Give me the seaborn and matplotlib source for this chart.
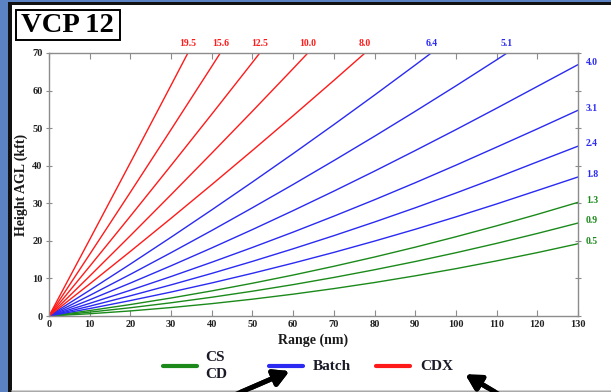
import numpy as np
import pandas as pd
import seaborn as sns
import matplotlib.pyplot as plt
from matplotlib.lines import Line2D
from matplotlib.patches import Rectangle
import matplotlib.transforms as mtransforms

# Range (nm) sample points, shared by all beams
range_nm = [0, 10, 20, 30, 40, 50, 60, 70, 80, 90, 100, 110, 120, 130]

# Elevation angles of VCP 12 (deg) and their scan group
elevations = ['0.5', '0.9', '1.3', '1.8', '2.4', '3.1', '4.0',
              '5.1', '6.4', '8.0', '10.0', '12.5', '15.6', '19.5']
groups = ['CS', 'CS', 'CS', 'Batch', 'Batch', 'Batch', 'Batch',
          'Batch', 'Batch', 'CDX', 'CDX', 'CDX', 'CDX', 'CDX']

# Beam height AGL (kft) at each range point
heights = [
    [0, 0.60, 1.35, 2.25, 3.29, 4.48, 5.81, 7.29, 8.91, 10.69, 12.60, 14.67, 16.87, 19.23],
    [0, 1.03, 2.20, 3.52, 4.99, 6.60, 8.35, 10.26, 12.31, 14.50, 16.84, 19.33, 21.97, 24.74],
    [0, 1.45, 3.05, 4.79, 6.68, 8.72, 10.90, 13.23, 15.70, 18.32, 21.09, 24.00, 27.05, 30.25],
    [0, 1.98, 4.11, 6.38, 8.80, 11.37, 14.08, 16.93, 19.94, 23.08, 26.38, 29.82, 33.40, 37.00],
    [0, 2.62, 5.38, 8.29, 11.34, 14.54, 17.89, 21.38, 25.02, 28.80, 32.73, 36.80, 41.02, 45.20],
    [0, 3.36, 6.86, 10.51, 14.31, 18.25, 22.33, 26.57, 30.94, 35.47, 40.14, 44.95, 49.80, 54.75],
    [0, 4.31, 8.77, 13.37, 18.12, 23.01, 28.05, 33.23, 38.56, 44.03, 49.60, 55.30, 61.10, 66.90],
    [0, 5.47, 11.09, 16.86, 22.76, 28.82, 35.01, 41.36, 47.84, 54.48, 61.25, 68.18, 75.24],
    [0, 6.85, 13.83, 20.97, 28.25, 35.67, 43.23, 50.94, 58.80, 66.80, 74.94],
    [0, 8.53, 17.20, 26.01, 34.97, 44.07, 53.31, 62.70, 72.23],
    [0, 10.62, 21.39, 32.29, 43.34, 54.52, 65.85, 77.33],
    [0, 13.22, 26.58, 40.08, 53.72, 67.49, 81.41],
    [0, 16.41, 32.95, 49.63, 66.44, 83.39],
    [0, 20.35, 40.82, 61.43, 82.17],
]

group_colors = {'CS': '#1b8a1b', 'Batch': '#2a2af2', 'CDX': '#ff1a1a'}
legend_names = ['CS\nCD', 'Batch', 'CDX']

rows = []
for elev, grp, hs in zip(elevations, groups, heights):
    for r, h in zip(range_nm, hs):
        rows.append({'elev': elev, 'group': grp, 'range': r, 'height': h})
df = pd.DataFrame(rows)

sns.set_style('ticks')
plt.rcParams['font.family'] = ['Liberation Serif', 'DejaVu Serif']
plt.rcParams['font.weight'] = 'bold'

fig = plt.figure(figsize=(6.11, 3.92), dpi=100)
fig.patch.set_facecolor('#5b82c2')
W, H = 611.0, 392.0


def px(x0, y0, x1, y1):
    return (x0 / W, 1 - y1 / H, (x1 - x0) / W, (y1 - y0) / H)


# slide frame: black rule and white panel
b = px(8, 2, 614, 396)
fig.patches.append(Rectangle(b[:2], b[2], b[3], transform=fig.transFigure,
                             facecolor='#111111', edgecolor='none', zorder=-2))
w = px(11.5, 5, 614, 390.5)
fig.patches.append(Rectangle(w[:2], w[2], w[3], transform=fig.transFigure,
                             facecolor='white', edgecolor='none', zorder=-1))
fig.add_artist(Line2D([11.5 / W, 1], [1 - 391 / H] * 2, color='#c8c8c8', lw=1.2))

ax = fig.add_axes([49 / W, 1 - 316 / H, 529 / W, 263 / H])
ax.set_zorder(1)
palette = {e: group_colors[g] for e, g in zip(elevations, groups)}
sns.lineplot(data=df, x='range', y='height', hue='elev', palette=palette,
             estimator=None, sort=False, legend=False, linewidth=1.0, ax=ax)

ax.set_xlim(0, 130)
ax.set_ylim(0, 70)
ax.set_xticks(range(0, 131, 10))
ax.set_yticks(range(0, 71, 10))
ax.set_facecolor('white')
for s in ax.spines.values():
    s.set_visible(True)
    s.set_color('#8c8c8c')
    s.set_linewidth(1.0)
ax.tick_params(axis='x', direction='in', length=4, color='#8c8c8c', top=True,
               labelsize=7.5, pad=3, labelcolor='#222222')
ax.tick_params(axis='y', direction='inout', length=5, color='#8c8c8c', right=True,
               labelsize=7.5, pad=2, labelcolor='#222222')
for lab in ax.get_xticklabels() + ax.get_yticklabels():
    lab.set_fontweight('bold')
ax.set_xlabel('Range (nm)', fontsize=10, fontweight='bold', color='#1a1a1a', labelpad=3)
ax.set_ylabel('Height AGL (kft)', fontsize=10, fontweight='bold', color='#1a1a1a', labelpad=3)

# elevation labels: top edge where the beam leaves the plot, right edge otherwise
trans_top = mtransforms.blended_transform_factory(ax.transData, ax.transAxes)
trans_right = mtransforms.blended_transform_factory(ax.transAxes, ax.transData)
for elev, grp, hs in zip(elevations, groups, heights):
    rr = range_nm[:len(hs)]
    color = group_colors[grp]
    if hs[-1] > 70:
        xc = np.interp(70, hs, rr)
        ax.text(xc, 1.035, elev, transform=trans_top, ha='center', va='center',
                fontsize=7, fontweight='bold', color=color, clip_on=False)
    else:
        ax.text(1.015, hs[-1] + 0.6, elev, transform=trans_right, ha='left',
                va='center', fontsize=7, fontweight='bold', color=color, clip_on=False)

# title box
tb = px(15.5, 9.5, 120, 40)
fig.patches.append(Rectangle(tb[:2], tb[2], tb[3], transform=fig.transFigure,
                             facecolor='white', edgecolor='black', lw=1.4, zorder=3))
fig.text(67.5 / W, 1 - 25 / H, 'VCP 12', ha='center', va='center', fontsize=20.5,
         fontweight='bold', color='black', zorder=4)

# group legend under the axis
leg_x = [(163, 197), (269, 303), (376, 410)]
leg_text_x = [205, 313, 420]
for (x0, x1), tx, name, grp in zip(leg_x, leg_text_x, legend_names, ['CS', 'Batch', 'CDX']):
    fig.add_artist(Line2D([x0 / W, x1 / W], [1 - 366 / H] * 2,
                          color=group_colors[grp], lw=3, solid_capstyle='round'))
    fig.text(tx / W, 1 - 366 / H, name, ha='left', va='center', fontsize=11,
             fontweight='bold', color='#1a1a28', linespacing=1.4)

# pointer arrows
fig.add_artist(plt.annotate('', xy=(292 / W, 1 - 370 / H), xytext=(232 / W, 1 - 396 / H),
                            xycoords='figure fraction', textcoords='figure fraction',
                            arrowprops=dict(arrowstyle='-|>,head_length=0.9,head_width=0.5',
                                            lw=3.5, color='black')))
fig.add_artist(plt.annotate('', xy=(463 / W, 1 - 373 / H), xytext=(505 / W, 1 - 398 / H),
                            xycoords='figure fraction', textcoords='figure fraction',
                            arrowprops=dict(arrowstyle='-|>,head_length=0.9,head_width=0.5',
                                            lw=3.5, color='black')))

fig.savefig('out.png', dpi=100, facecolor=fig.get_facecolor())
